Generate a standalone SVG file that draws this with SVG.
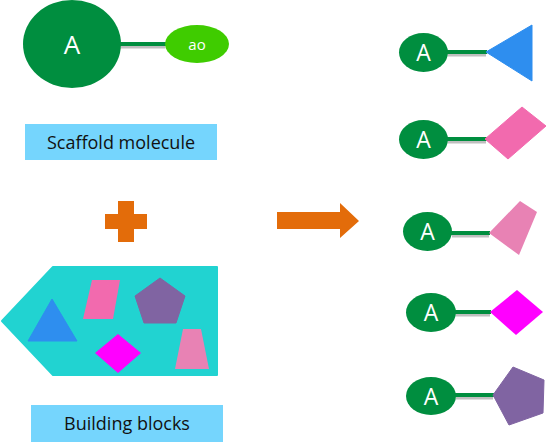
<svg xmlns="http://www.w3.org/2000/svg" width="547" height="442" viewBox="0 0 547 442">
<style>
.g{fill:#008E3F}
.w{fill:#fff;font-family:"Open Sans","Liberation Sans",Arial,sans-serif;text-anchor:middle}
.lbl{fill:#75D5FD}
.lt{fill:#111;font-family:"Open Sans","Liberation Sans",sans-serif;font-size:18px;text-anchor:middle}
.ln{stroke:#008E3F;stroke-width:4;fill:none}
.sh{stroke:#000;stroke-opacity:0.25;stroke-width:3;fill:none}
</style>
<rect width="547" height="442" fill="#fff"/>
<g id="connectors">
<line class="sh" x1="121" y1="47" x2="165" y2="47"/>
<line class="ln" x1="120" y1="44" x2="167" y2="44" stroke-width="5"/>
<line class="sh" x1="448" y1="55" x2="486" y2="55"/>
<line class="ln" x1="446" y1="52" x2="487" y2="52"/>
<line class="sh" x1="448" y1="142" x2="486" y2="142"/>
<line class="ln" x1="446" y1="139" x2="487" y2="139"/>
<line class="sh" x1="452" y1="236" x2="489" y2="236"/>
<line class="ln" x1="450" y1="233" x2="490" y2="233"/>
<line class="sh" x1="456" y1="315" x2="490" y2="315"/>
<line class="ln" x1="454" y1="312" x2="491" y2="312"/>
<line class="sh" x1="456" y1="398" x2="493" y2="398"/>
<line class="ln" x1="454" y1="395" x2="494" y2="395"/>
</g>
<g id="scaffold">
<ellipse class="g" cx="72" cy="44" rx="49" ry="44"/>
<text class="w" x="72" y="54" font-size="26">A</text>
</g>
<g id="ao">
<ellipse cx="197" cy="44" rx="32" ry="19" fill="#3FCC00"/>
<text class="w" x="197" y="50" font-size="15">ao</text>
</g>
<g id="scaffold-label">
<rect class="lbl" x="25" y="124" width="192" height="36"/>
<text class="lt" x="121" y="149">Scaffold molecule</text>
</g>
<g id="plus">
<path d="M118 201h16v13h13v15h-13v13h-16v-13h-13v-15h13z" fill="#E36C0A"/>
</g>
<g id="blocks">
<path d="M2 321L53 267H217V375H53Z" fill="#21D3D1" stroke="#21D3D1" stroke-width="2" stroke-linejoin="round"/>
<polygon points="52,299 77,341 28,341" fill="#2E8EEF" stroke="#2E8EEF" stroke-linejoin="round"/>
<polygon points="92,280 120,280 113,319 83,319" fill="#F26AAE"/>
<polygon points="160,278 185,296 176,323 144,323 135,296" fill="#8064A2" stroke="#8064A2" stroke-linejoin="round"/>
<polygon points="118,334 141,353 118,373 95,353" fill="#FF00FF"/>
<polygon points="183,329 201,329 209,369 175,369" fill="#E882B4"/>
</g>
<g id="blocks-label">
<rect class="lbl" x="31" y="405" width="192" height="37"/>
<text class="lt" x="127" y="430">Building blocks</text>
</g>
<g id="arrow">
<path d="M277 212H340V203L359 221L340 238V229H277Z" fill="#E36C0A"/>
</g>
<g id="p1">
<ellipse class="g" cx="423.5" cy="52.5" rx="24.5" ry="19.5"/>
<text class="w" x="423.5" y="61" font-size="23">A</text>
<polygon points="486,52 532,25 532,81" fill="#2E8EEF" stroke="#2E8EEF" stroke-linejoin="round"/>
</g>
<g id="p2">
<ellipse class="g" cx="423.5" cy="139.5" rx="24.5" ry="19.5"/>
<text class="w" x="423.5" y="148" font-size="23">A</text>
<polygon points="485,139 522,107 546,126 508,159" fill="#F26AAE" stroke="#F26AAE" stroke-linejoin="round"/>
</g>
<g id="p3">
<ellipse class="g" cx="427.5" cy="231.5" rx="24.5" ry="19.5"/>
<text class="w" x="427.5" y="240" font-size="23">A</text>
<polygon points="489,233 520,201 537,212 519,255" fill="#E882B4"/>
</g>
<g id="p4">
<ellipse class="g" cx="431" cy="312.5" rx="25" ry="19.5"/>
<text class="w" x="431" y="321" font-size="23">A</text>
<polygon points="490,312 517,290 543,312 516,335" fill="#FF00FF"/>
</g>
<g id="p5">
<ellipse class="g" cx="431" cy="396" rx="25" ry="19"/>
<text class="w" x="431" y="404.5" font-size="23">A</text>
<polygon points="493,395 513,367 544,380 543,413 509,425" fill="#8064A2" stroke="#8064A2" stroke-linejoin="round"/>
</g>
</svg>
